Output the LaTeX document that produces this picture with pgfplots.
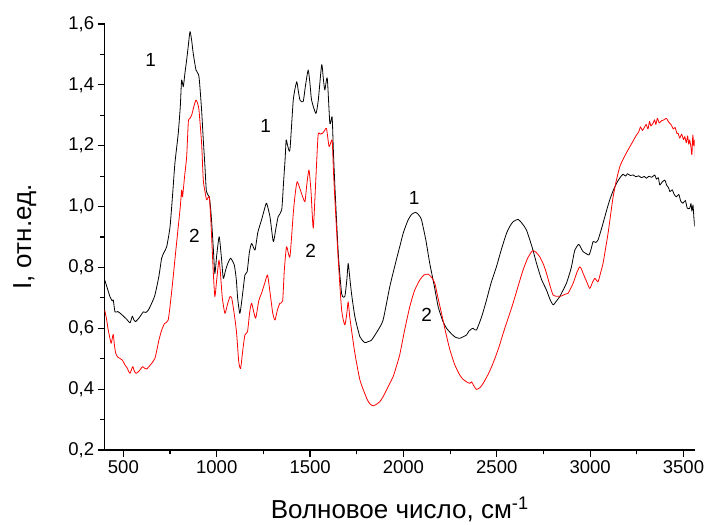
\documentclass[border=0pt]{standalone}
\usepackage{fontspec}
\setmainfont{Liberation Sans}
\usepackage{pgfplots}
\pgfplotsset{compat=1.18}

\pgfplotstableread{
x y
400 0.759
415 0.730
428 0.704
440 0.690
446 0.693
455 0.654
470 0.655
482 0.650
500 0.640
520 0.628
536 0.618
548 0.640
556 0.628
566 0.622
585 0.635
607 0.654
620 0.652
633 0.659
650 0.680
669 0.709
690 0.770
705 0.830
718 0.850
732 0.868
750 0.934
765 1.050
776 1.142
794 1.241
805 1.330
812 1.416
821 1.394
830 1.440
839 1.482
848 1.530
857 1.575
866 1.545
874 1.504
889 1.449
905 1.427
919 1.317
928 1.220
937 1.131
945 1.049
960 1.032
968 0.990
975 0.930
982 0.860
990 0.780
1000 0.840
1013 0.901
1024 0.840
1035 0.764
1045 0.785
1056 0.808
1074 0.830
1094 0.808
1105 0.760
1112 0.700
1124 0.649
1138 0.710
1151 0.775
1163 0.786
1175 0.850
1187 0.879
1205 0.857
1220 0.915
1240 0.956
1255 0.990
1267 1.011
1285 0.967
1303 0.885
1316 0.925
1329 0.967
1348 0.989
1358 1.080
1366 1.153
1372 1.219
1380 1.200
1392 1.186
1410 1.350
1428 1.410
1437 1.380
1446 1.350
1463 1.345
1476 1.400
1490 1.449
1500 1.400
1508 1.350
1531 1.306
1544 1.350
1562 1.466
1571 1.420
1579 1.383
1592 1.422
1606 1.273
1618 1.295
1625 1.180
1633 1.065
1651 0.846
1669 0.714
1686 0.704
1697 0.760
1704 0.813
1712 0.770
1722 0.714
1740 0.638
1767 0.572
1793 0.553
1810 0.556
1829 0.561
1860 0.590
1891 0.627
1927 0.737
1960 0.820
1981 0.870
2000 0.915
2025 0.956
2045 0.975
2067 0.981
2085 0.970
2097 0.956
2120 0.890
2141 0.813
2165 0.740
2186 0.671
2210 0.625
2231 0.600
2260 0.580
2280 0.570
2302 0.567
2320 0.572
2338 0.578
2350 0.590
2365 0.598
2373 0.600
2391 0.594
2420 0.640
2445 0.693
2470 0.750
2498 0.802
2525 0.860
2552 0.912
2570 0.935
2587 0.950
2614 0.958
2635 0.945
2659 0.923
2690 0.865
2713 0.813
2740 0.760
2766 0.726
2785 0.695
2802 0.677
2820 0.690
2837 0.704
2855 0.725
2873 0.748
2890 0.780
2900 0.802
2918 0.857
2939 0.876
2950 0.865
2962 0.852
2980 0.845
2994 0.841
3005 0.860
3016 0.885
3030 0.882
3042 0.890
3055 0.915
3069 0.945
3087 0.985
3105 1.022
3125 1.055
3141 1.076
3160 1.095
3176 1.106
3190 1.100
3200 1.108
3215 1.102
3230 1.104
3245 1.098
3260 1.101
3275 1.095
3290 1.099
3302 1.093
3315 1.100
3330 1.096
3346 1.104
3355 1.090
3365 1.095
3373 1.071
3385 1.080
3400 1.087
3410 1.070
3420 1.062
3427 1.049
3440 1.055
3450 1.040
3462 1.032
3475 1.040
3485 1.018
3497 1.011
3510 1.020
3520 0.995
3533 0.994
3540 1.010
3545 0.985
3551 1.005
3556 0.960
3560 0.934
}\curveone

\pgfplotstableread{
x y
400 0.660
410 0.630
419 0.594
434 0.551
440 0.565
446 0.580
452 0.545
459 0.518
470 0.505
482 0.501
495 0.495
509 0.479
520 0.470
535 0.452
550 0.474
558 0.460
568 0.452
585 0.460
603 0.474
615 0.468
625 0.466
645 0.480
669 0.501
690 0.560
705 0.594
720 0.615
740 0.627
755 0.700
767 0.770
780 0.850
794 0.934
805 1.000
812 1.054
817 1.032
828 1.100
839 1.164
848 1.279
857 1.290
866 1.301
878 1.330
889 1.350
897 1.340
905 1.317
919 1.208
928 1.087
937 1.050
946 1.022
960 1.032
968 0.960
975 0.870
982 0.780
990 0.704
1000 0.760
1012 0.824
1020 0.780
1030 0.700
1044 0.649
1058 0.680
1071 0.704
1080 0.700
1088 0.671
1100 0.620
1107 0.580
1118 0.490
1128 0.468
1140 0.530
1151 0.578
1165 0.589
1176 0.650
1187 0.682
1208 0.633
1225 0.690
1240 0.715
1258 0.750
1272 0.775
1285 0.720
1300 0.650
1312 0.627
1325 0.660
1338 0.682
1353 0.690
1362 0.790
1374 0.868
1392 0.835
1410 0.978
1420 1.040
1431 1.082
1451 1.049
1472 1.016
1482 1.070
1494 1.120
1505 1.050
1517 0.929
1530 1.080
1543 1.235
1555 1.238
1567 1.241
1578 1.250
1588 1.257
1602 1.197
1618 1.219
1625 1.120
1633 1.022
1651 0.824
1669 0.660
1686 0.611
1697 0.650
1704 0.687
1712 0.640
1722 0.594
1740 0.518
1767 0.430
1803 0.370
1820 0.352
1838 0.345
1860 0.352
1874 0.359
1891 0.375
1927 0.419
1945 0.441
1960 0.470
1981 0.515
2005 0.590
2034 0.671
2060 0.725
2088 0.759
2110 0.775
2132 0.778
2150 0.768
2168 0.748
2185 0.700
2204 0.649
2225 0.590
2249 0.529
2275 0.480
2302 0.446
2320 0.432
2338 0.424
2356 0.419
2365 0.424
2378 0.410
2391 0.399
2410 0.405
2427 0.419
2455 0.450
2480 0.485
2510 0.535
2534 0.583
2560 0.632
2587 0.682
2615 0.740
2641 0.792
2665 0.830
2691 0.855
2710 0.850
2730 0.835
2750 0.810
2766 0.781
2785 0.740
2802 0.709
2825 0.705
2846 0.706
2865 0.712
2882 0.715
2895 0.730
2909 0.748
2930 0.785
2944 0.802
2953 0.795
2962 0.781
2980 0.755
2998 0.731
3012 0.750
3025 0.764
3042 0.753
3055 0.780
3069 0.813
3082 0.860
3096 0.912
3110 0.975
3123 1.032
3140 1.085
3159 1.131
3180 1.160
3203 1.186
3225 1.210
3248 1.235
3260 1.245
3270 1.262
3280 1.250
3292 1.262
3300 1.270
3310 1.255
3318 1.280
3325 1.265
3337 1.274
3345 1.285
3352 1.270
3360 1.290
3370 1.275
3382 1.282
3395 1.285
3409 1.290
3420 1.278
3435 1.268
3445 1.255
3455 1.260
3465 1.240
3471 1.241
3480 1.225
3490 1.238
3500 1.220
3507 1.230
3515 1.210
3522 1.232
3528 1.205
3533 1.219
3540 1.195
3545 1.170
3550 1.235
3555 1.200
3560 1.219
3563 1.143
}\curvetwo

\begin{document}
\begin{tikzpicture}
\useasboundingbox (-104.7pt,-75pt) rectangle (600.3pt,450pt);
\begin{axis}[
    width=590pt, height=426pt, scale only axis,
    xmin=400, xmax=3560, ymin=0.2, ymax=1.6,
    axis lines=left,
    axis line style={-, line width=1.2pt},
    xtick={500,1000,1500,2000,2500,3000,3500},
    ytick={0.2,0.4,0.6,0.8,1.0,1.2,1.4,1.6},
    minor x tick num=1, minor y tick num=1,
    tick align=outside,
    major tick length=7pt, minor tick length=4.5pt,
    every tick/.style={black, line width=1.2pt},
    /pgf/number format/assume math mode=true,
    tick label style={font=\fontsize{18.5}{21}\selectfont},
    xticklabel style={/pgf/number format/1000 sep={}},
    yticklabel style={/pgf/number format/fixed, /pgf/number format/fixed zerofill,
        /pgf/number format/precision=1, /pgf/number format/use comma},
    xlabel={Волновое число, см\textsuperscript{-1}},
    ylabel={I, отн.ед.},
    label style={font=\fontsize{26}{30}\selectfont, inner sep=0pt},
    xlabel style={at={(axis description cs:0.5,-0.140)}, anchor=center},
    ylabel style={at={(axis description cs:-0.1356,0.5)}, anchor=center},
]
\addplot[black, line width=0.8pt, line join=round, smooth, tension=0.35] table[x=x, y=y] {\curveone};
\addplot[red, line width=0.8pt, line join=round, smooth, tension=0.35] table[x=x, y=y] {\curvetwo};
\node[font=\fontsize{19}{21}\selectfont] at (axis cs:646,1.482) {1};
\node[font=\fontsize{19}{21}\selectfont] at (axis cs:880,0.904) {2};
\node[font=\fontsize{19}{21}\selectfont] at (axis cs:1262,1.265) {1};
\node[font=\fontsize{19}{21}\selectfont] at (axis cs:1503,0.855) {2};
\node[font=\fontsize{19}{21}\selectfont] at (axis cs:2057,1.027) {1};
\node[font=\fontsize{19}{21}\selectfont] at (axis cs:2124,0.644) {2};
\end{axis}
\end{tikzpicture}
\end{document}
